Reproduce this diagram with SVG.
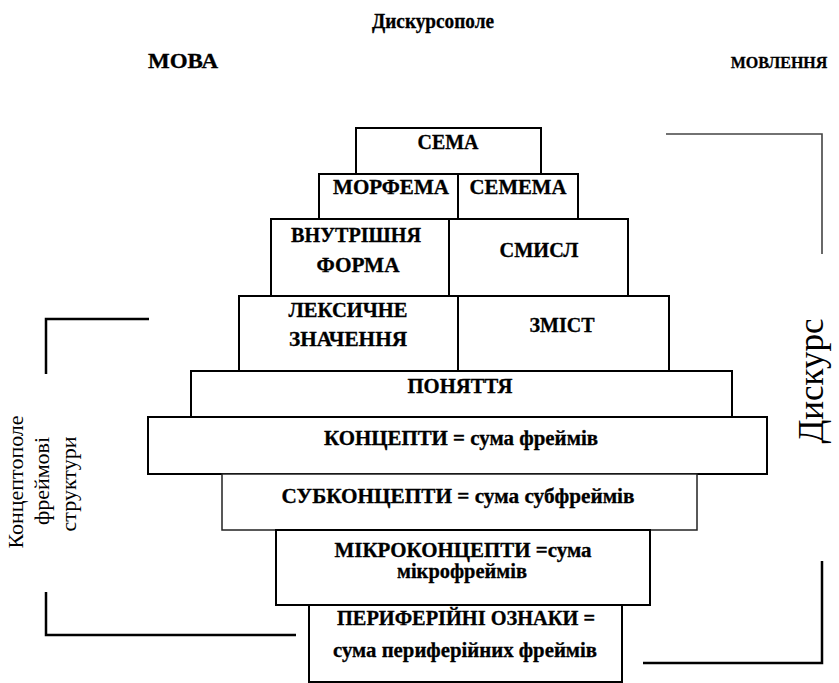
<svg xmlns="http://www.w3.org/2000/svg" width="839" height="683" viewBox="0 0 839 683">
<style>
  .box { fill: #fff; stroke: #000; stroke-width: 2; }
  .thin { stroke-width: 1.5; stroke: #222; }
  .lbl { font-family: "Liberation Serif", "Times New Roman", serif; font-weight: bold; font-size: 20px; fill: #000; stroke: #000; stroke-width: 0.3; text-anchor: middle; }
  .hdr { font-family: "Liberation Serif", "Times New Roman", serif; font-weight: bold; font-size: 20px; fill: #000; stroke: #000; stroke-width: 0.3; text-anchor: middle; }
  .side { font-family: "Liberation Serif", "Times New Roman", serif; font-size: 22px; fill: #000; text-anchor: middle; }
  .brk { fill: none; stroke: #000; stroke-width: 2.5; }
  .brk2 { fill: none; stroke: #444; stroke-width: 1.6; }
</style>
<rect width="839" height="683" fill="#fff"/>

<g id="headers">
  <text class="hdr" x="433" y="28" textLength="122" lengthAdjust="spacingAndGlyphs">Дискурсополе</text>
  <text class="hdr" x="183" y="68" textLength="70" lengthAdjust="spacingAndGlyphs">МОВА</text>
  <text class="hdr" x="779" y="68" style="font-size:16px">МОВЛЕННЯ</text>
</g>

<g id="brackets">
  <path class="brk2" d="M666,134 H822 V254"/>
  <path class="brk" d="M822,561 V663 H643"/>
  <path class="brk" d="M149,319 H46 V374"/>
  <path class="brk" d="M46,592 V635 H296"/>
</g>

<g id="side-labels">
  <text class="side" transform="translate(823,381) rotate(-90)" style="font-size:35px">Дискурс</text>
  <text class="side" transform="translate(23,482) rotate(-90)">Концептополе</text>
  <text class="side" transform="translate(49,481) rotate(-90)">фреймові</text>
  <text class="side" transform="translate(76,484) rotate(-90)">структури</text>
</g>

<g id="sema">
  <rect class="box" x="356" y="128" width="185" height="46"/>
  <text class="lbl" x="448" y="149" textLength="61" lengthAdjust="spacingAndGlyphs">СЕМА</text>
</g>
<g id="morfema">
  <rect class="box" x="319" y="174" width="139" height="45"/>
  <text class="lbl" x="391" y="194" textLength="116" lengthAdjust="spacingAndGlyphs">МОРФЕМА</text>
</g>
<g id="semema">
  <rect class="box" x="458" y="174" width="120" height="45"/>
  <text class="lbl" x="518" y="194" textLength="97" lengthAdjust="spacingAndGlyphs">СЕМЕМА</text>
</g>
<g id="vnutrishnia-forma">
  <rect class="box" x="271" y="219" width="178" height="77"/>
  <text class="lbl" x="356" y="242" textLength="130" lengthAdjust="spacingAndGlyphs">ВНУТРІШНЯ</text>
  <text class="lbl" x="358" y="272" textLength="83" lengthAdjust="spacingAndGlyphs">ФОРМА</text>
</g>
<g id="smysl">
  <rect class="box" x="449" y="219" width="179" height="77"/>
  <text class="lbl" x="539" y="257" textLength="79" lengthAdjust="spacingAndGlyphs">СМИСЛ</text>
</g>
<g id="leksychne">
  <rect class="box" x="239" y="296" width="219" height="75"/>
  <text class="lbl" x="348" y="317" textLength="119" lengthAdjust="spacingAndGlyphs">ЛЕКСИЧНЕ</text>
  <text class="lbl" x="348" y="346" textLength="118" lengthAdjust="spacingAndGlyphs">ЗНАЧЕННЯ</text>
</g>
<g id="zmist">
  <rect class="box" x="458" y="296" width="211" height="75"/>
  <text class="lbl" x="562" y="332" textLength="65" lengthAdjust="spacingAndGlyphs">ЗМІСТ</text>
</g>
<g id="poniattia">
  <rect class="box" x="191" y="371" width="541" height="46"/>
  <text class="lbl" x="460" y="393" textLength="105" lengthAdjust="spacingAndGlyphs">ПОНЯТТЯ</text>
</g>
<g id="kontsepty">
  <rect class="box" x="148" y="417" width="619" height="57"/>
  <text class="lbl" x="461" y="445" textLength="274" lengthAdjust="spacingAndGlyphs">КОНЦЕПТИ = сума фреймів</text>
</g>
<g id="subkontsepty">
  <rect class="box thin" x="222" y="474" width="475" height="56"/>
  <text class="lbl" x="458" y="503" textLength="353" lengthAdjust="spacingAndGlyphs">СУБКОНЦЕПТИ = сума субфреймів</text>
</g>
<g id="mikrokontsepty">
  <rect class="box" x="276" y="530" width="374" height="75"/>
  <text class="lbl" x="463" y="557" textLength="257" lengthAdjust="spacingAndGlyphs">МІКРОКОНЦЕПТИ =сума</text>
  <text class="lbl" x="462" y="578" textLength="130" lengthAdjust="spacingAndGlyphs">мікрофреймів</text>
</g>
<g id="peryferiini">
  <rect class="box" x="309" y="605" width="313" height="77"/>
  <text class="lbl" x="466" y="625" textLength="258" lengthAdjust="spacingAndGlyphs">ПЕРИФЕРІЙНІ ОЗНАКИ =</text>
  <text class="lbl" x="465" y="657" textLength="264" lengthAdjust="spacingAndGlyphs">сума периферійних фреймів</text>
</g>
</svg>
